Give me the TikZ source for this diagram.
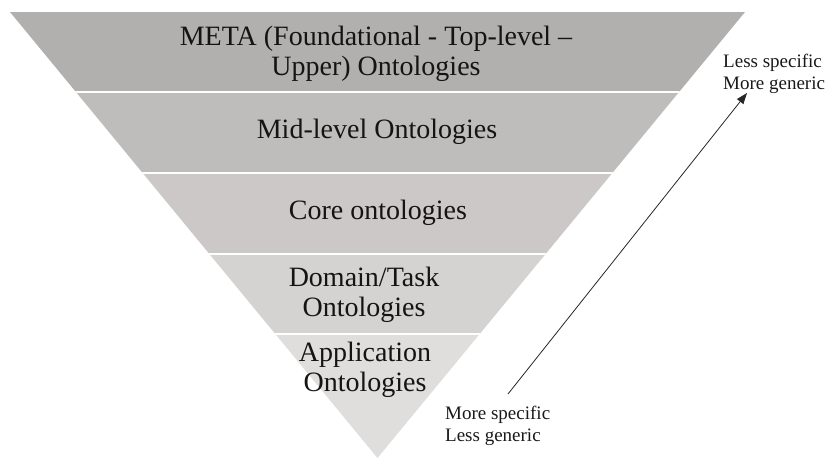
\documentclass[tikz,border=0pt]{standalone}
\usepackage{fontspec}
\setmainfont{Liberation Serif}
\usetikzlibrary{arrows.meta}
\definecolor{bandA}{RGB}{177,176,175}
\definecolor{bandB}{RGB}{191,189,188}
\definecolor{bandC}{RGB}{203,200,199}
\definecolor{bandD}{RGB}{213,211,210}
\definecolor{bandE}{RGB}{223,222,221}
\begin{document}
\begin{tikzpicture}[x=1pt,y=-1pt,
  lbl/.style={font=\fontsize{28}{30}\selectfont, align=center, text=black!92, inner sep=0pt},
  note/.style={font=\fontsize{19}{22.5}\selectfont, align=left, anchor=base west, inner sep=0pt, text=black!90},
  sep/.style={white, line width=2pt},
  arr/.style={-{Triangle[length=11pt,width=8pt]}, line width=0.8pt, black!85}]
\useasboundingbox (0,0) rectangle (828,459);
\coordinate (TL) at (10,12);
\coordinate (TR) at (745,12);
\coordinate (AP) at (377.5,458);
\begin{scope}
  \clip (TL) -- (TR) -- (AP) -- cycle;
  \fill[bandA] (0,0) rectangle (828,92);
  \fill[bandB] (0,92) rectangle (828,172.5);
  \fill[bandC] (0,172.5) rectangle (828,253.5);
  \fill[bandD] (0,253.5) rectangle (828,334);
  \fill[bandE] (0,334) rectangle (828,459);
  \draw[sep] (0,92) -- (828,92);
  \draw[sep] (0,172.5) -- (828,172.5);
  \draw[sep] (0,253.5) -- (828,253.5);
  \draw[sep] (0,334) -- (828,334);
\end{scope}
\node[lbl] (meta) at (376,54) {META (Foundational - Top-level –\\Upper) Ontologies};
\node[lbl] (mid) at (377,132) {Mid-level Ontologies};
\node[lbl] (core) at (378,213) {Core ontologies};
\node[lbl] (dom) at (364,295) {Domain/Task\\Ontologies};
\node[lbl] (app) at (365,370) {Application\\Ontologies};
\node[note] (top) at (723,89.5) {Less specific\\More generic};
\node[note] (bot) at (445,441.5) {More specific\\Less generic};
\coordinate (as) at (508,394);
\coordinate (ae) at (747,93);
\draw[arr] (as) -- (ae);
\end{tikzpicture}
\end{document}
